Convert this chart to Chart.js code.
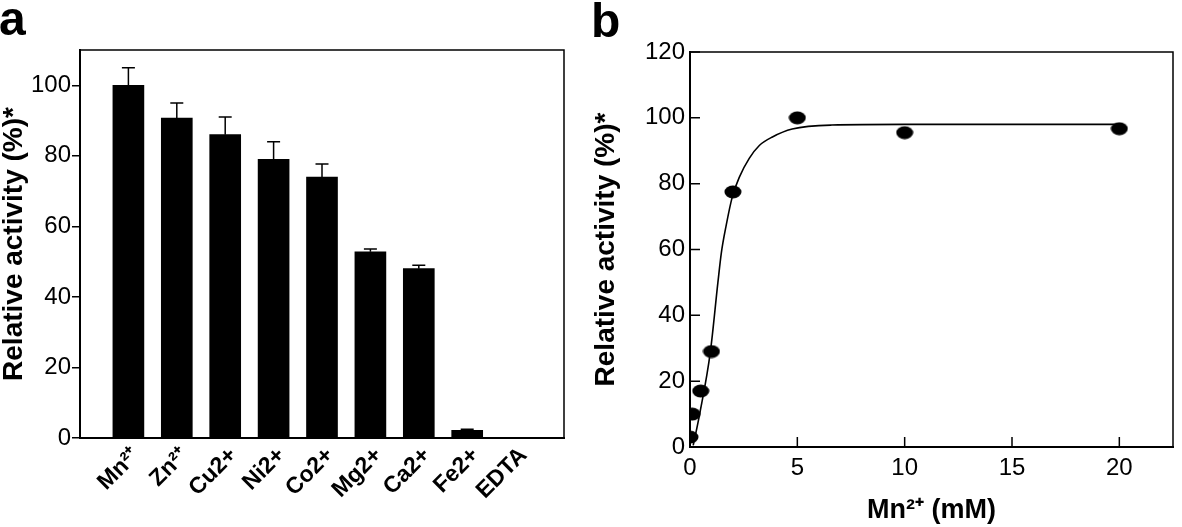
<!DOCTYPE html>
<html>
<head>
<meta charset="utf-8">
<script src="https://cdn.jsdelivr.net/npm/chart.js@4"></script>
<style>
  html, body { margin: 0; padding: 0; background: #fff; }
  #wrap { position: relative; width: 1182px; height: 527px; }
  #barChart { position: absolute; left: 0; top: 0; }
  #curveChart { position: absolute; left: 580px; top: 0; }
</style>
</head>
<body>
<div id="wrap">
  <canvas id="barChart" width="580" height="527"></canvas>
  <canvas id="curveChart" width="602" height="527"></canvas>
</div>
<script>
// panel a: metal ions
const ions = ['Mn²⁺', 'Zn²⁺', 'Cu2+', 'Ni2+', 'Co2+', 'Mg2+', 'Ca2+', 'Fe2+', 'EDTA'];
const activity = [100, 90.7, 86, 79, 74, 52.8, 48, 2.2, 0];
const activityErr = [5, 4.3, 5, 5, 3.7, 0.8, 1, 0.3, 0];
const yTicksA = [0, 20, 40, 60, 80, 100];

// panel b: Mn2+ concentration
const mnConc = [0, 0.1, 0.5, 1, 2, 5, 10, 20];
const mnActivity = [3, 10, 17, 29, 77.5, 100, 95.5, 96.7];
const fitX = [0.15, 0.45, 0.95, 1.3, 1.46, 1.69, 1.97, 2.3, 2.76, 3.23, 3.84, 4.76, 6.6, 10, 20];
const fitY = [0.5, 10, 29, 50, 59, 67.5, 76, 82, 87.7, 91.6, 94.2, 96.6, 97.8, 98, 98];
const xTicksB = [0, 5, 10, 15, 20];
const yTicksB = [0, 20, 40, 60, 80, 100, 120];

Chart.defaults.font.family = "'Liberation Sans', Arial, sans-serif";
Chart.defaults.color = '#000';

// top/right edges of the box and the panel letter
const frame = {
  id: 'frame',
  afterDraw(chart, args, opts) {
    const { ctx, chartArea: a } = chart;
    ctx.save();
    ctx.strokeStyle = '#000';
    ctx.lineWidth = 1.5;
    ctx.beginPath();
    ctx.moveTo(a.left, a.top);
    ctx.lineTo(a.right, a.top);
    ctx.lineTo(a.right, a.bottom);
    ctx.stroke();
    ctx.fillStyle = '#000';
    ctx.font = "bold 48px 'Liberation Sans', Arial, sans-serif";
    ctx.fillText(opts.letter, opts.lx, opts.ly);
    ctx.restore();
  }
};

const errorBars = {
  id: 'errorBars',
  afterDatasetsDraw(chart) {
    const { ctx } = chart;
    const ys = chart.scales.y;
    ctx.save();
    ctx.strokeStyle = '#000';
    ctx.lineWidth = 1.5;
    chart.getDatasetMeta(0).data.forEach((bar, i) => {
      if (!activityErr[i]) return;
      const top = ys.getPixelForValue(activity[i] + activityErr[i]);
      ctx.beginPath();
      ctx.moveTo(bar.x, bar.y);
      ctx.lineTo(bar.x, top);
      ctx.moveTo(bar.x - 6.5, top);
      ctx.lineTo(bar.x + 6.5, top);
      ctx.stroke();
    });
    ctx.restore();
  }
};

// tick marks pointing into the plot
const innerTicks = {
  id: 'innerTicks',
  afterDraw(chart) {
    const { ctx, chartArea: a, scales } = chart;
    ctx.save();
    ctx.strokeStyle = '#000';
    ctx.lineWidth = 1.5;
    ctx.beginPath();
    scales.x.ticks.forEach(t => {
      const px = scales.x.getPixelForValue(t.value);
      ctx.moveTo(px, a.bottom);
      ctx.lineTo(px, a.bottom - 10);
    });
    scales.y.ticks.forEach(t => {
      const py = scales.y.getPixelForValue(t.value);
      ctx.moveTo(a.left, py);
      ctx.lineTo(a.left + 10, py);
    });
    ctx.stroke();
    ctx.restore();
  }
};

new Chart(document.getElementById('barChart'), {
  type: 'bar',
  data: {
    datasets: [{
      data: ions.map((n, i) => ({ x: i, y: activity[i] })),
      backgroundColor: '#000',
      barThickness: 31
    }]
  },
  options: {
    responsive: false,
    animation: false,
    layout: { padding: { top: 50, right: 16, left: 0, bottom: 0 } },
    plugins: {
      legend: { display: false },
      tooltip: { enabled: false },
      frame: { letter: 'a', lx: -1, ly: 35 }
    },
    scales: {
      x: {
        type: 'linear',
        offset: false,
        min: -1,
        max: 9,
        afterBuildTicks: s => { s.ticks = ions.map((n, i) => ({ value: i })); },
        afterFit: s => { s.height = 89; },
        grid: { drawOnChartArea: false, drawTicks: false },
        border: { color: '#000', width: 2 },
        ticks: {
          autoSkip: false,
          minRotation: 45,
          maxRotation: 45,
          padding: 4,
          labelOffset: 8,
          font: { size: 23, weight: 'bold' },
          callback: v => ions[v]
        }
      },
      y: {
        min: 0,
        max: 110,
        afterBuildTicks: s => { s.ticks = yTicksA.map(v => ({ value: v })); },
        afterFit: s => { s.width = 80; },
        grid: { drawOnChartArea: false, tickLength: 8, color: '#000', lineWidth: 1.5 },
        border: { color: '#000', width: 2 },
        ticks: { font: { size: 24 }, padding: 1 },
        title: {
          display: true,
          text: 'Relative activity (%)*',
          font: { size: 28, weight: 'bold', lineHeight: 1 },
          padding: 0
        }
      }
    }
  },
  plugins: [frame, errorBars]
});

// slightly wide filled marker
const dot = document.createElement('canvas');
dot.width = 18;
dot.height = 14;
const dctx = dot.getContext('2d');
dctx.fillStyle = '#000';
dctx.beginPath();
dctx.ellipse(9, 7, 8.5, 6.5, 0, 0, Math.PI * 2);
dctx.fill();

new Chart(document.getElementById('curveChart'), {
  type: 'scatter',
  data: {
    datasets: [
      {
        data: mnConc.map((c, i) => ({ x: c, y: mnActivity[i] })),
        pointStyle: dot,
        pointRadius: 8,
        order: 0
      },
      {
        type: 'line',
        data: fitX.map((c, i) => ({ x: c, y: fitY[i] })),
        borderColor: '#000',
        borderWidth: 1.6,
        pointRadius: 0,
        fill: false,
        cubicInterpolationMode: 'monotone',
        order: 1
      }
    ]
  },
  options: {
    responsive: false,
    animation: false,
    layout: { padding: { top: 52, right: 3, left: 12, bottom: 0 } },
    plugins: {
      legend: { display: false },
      tooltip: { enabled: false },
      frame: { letter: 'b', lx: 11, ly: 37 }
    },
    scales: {
      x: {
        type: 'linear',
        min: 0,
        max: 22.5,
        afterBuildTicks: s => { s.ticks = xTicksB.map(v => ({ value: v })); },
        afterFit: s => { s.height = 80; },
        grid: { drawOnChartArea: false, drawTicks: false },
        border: { color: '#000', width: 2 },
        ticks: { font: { size: 24 }, padding: 7 },
        title: {
          display: true,
          text: 'Mn²⁺ (mM)',
          font: { size: 27, weight: 'bold', lineHeight: 1 },
          padding: { top: 0, bottom: 3 }
        }
      },
      y: {
        min: 0,
        max: 120,
        afterBuildTicks: s => { s.ticks = yTicksB.map(v => ({ value: v })); },
        afterFit: s => { s.width = 98; },
        grid: { drawOnChartArea: false, drawTicks: false },
        border: { color: '#000', width: 2 },
        ticks: { font: { size: 24 }, padding: 5 },
        title: {
          display: true,
          text: 'Relative activity (%)*',
          font: { size: 28, weight: 'bold', lineHeight: 1 },
          padding: 0
        }
      }
    }
  },
  plugins: [frame, innerTicks]
});
</script>
</body>
</html>
